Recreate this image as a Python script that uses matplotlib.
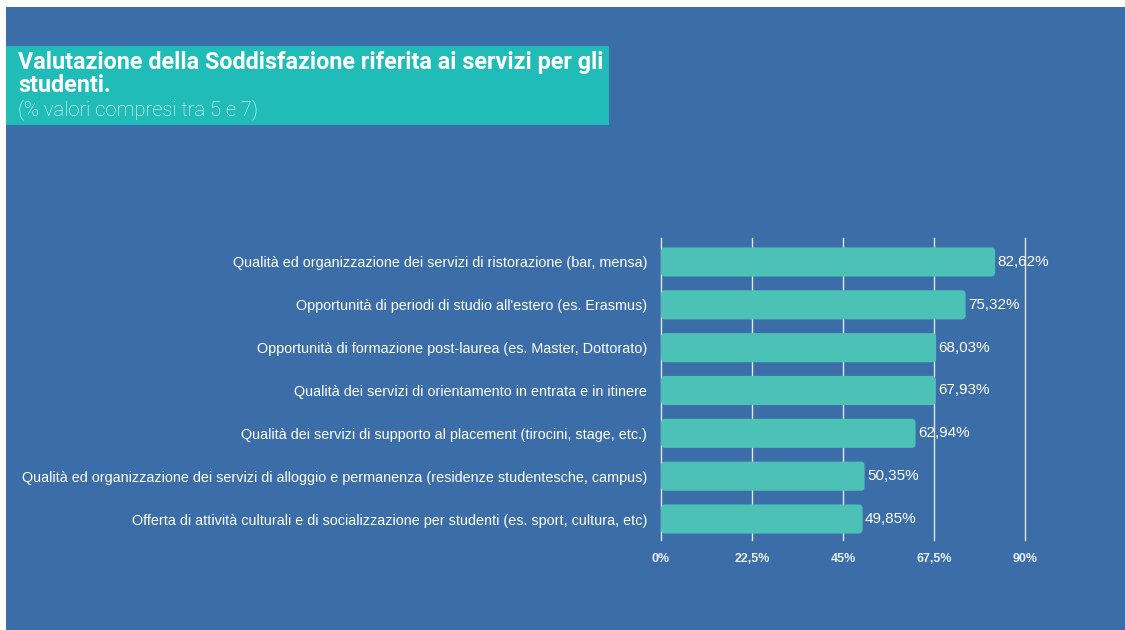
import matplotlib
matplotlib.use("Agg")
import matplotlib.pyplot as plt
from matplotlib.patches import Rectangle, FancyBboxPatch

categories = [
    "Qualità ed organizzazione dei servizi di ristorazione (bar, mensa)",
    "Opportunità di periodi di studio all'estero (es. Erasmus)",
    "Opportunità di formazione post-laurea (es. Master, Dottorato)",
    "Qualità dei servizi di orientamento in entrata e in itinere",
    "Qualità dei servizi di supporto al placement (tirocini, stage, etc.)",
    "Qualità ed organizzazione dei servizi di alloggio e permanenza (residenze studentesche, campus)",
    "Offerta di attività culturali e di socializzazione per studenti (es. sport, cultura, etc)",
]
values = [82.62, 75.32, 68.03, 67.93, 62.94, 50.35, 49.85]
ticks = [0, 22.5, 45, 67.5, 90]
tick_labels = ["0%", "22,5%", "45%", "67,5%", "90%"]

W, H = 1125, 630
BG = "#3b6ea8"
BAR = "#4cc1b6"
TEAL = "#1fbcb8"

fig = plt.figure(figsize=(W / 100, H / 100), dpi=100)
fig.patch.set_facecolor("white")
# blue panel
fig.patches.append(Rectangle((6 / W, 0), 1 - 6 / W, 1 - 7 / H, transform=fig.transFigure,
                             facecolor=BG, edgecolor="none", zorder=-2))
# title box
fig.patches.append(Rectangle((6 / W, 1 - 125 / H), (609 - 6) / W, (125 - 46) / H,
                             transform=fig.transFigure, facecolor=TEAL, edgecolor="none", zorder=-1))
fig.text(18 / W, 1 - 63 / H, "Valutazione della Soddisfazione riferita ai servizi per gli",
         fontsize=16.8, fontweight="bold", color="white", family="Roboto", va="center", ha="left")
fig.text(18 / W, 1 - 86 / H, "studenti.", fontsize=16.8, fontweight="bold", color="white",
         family="Roboto", va="center", ha="left")
fig.text(18 / W, 1 - 110 / H, "(% valori compresi tra 5 e 7)", fontsize=14.5, color="white",
         family="Roboto", fontweight="light", va="center", ha="left")

ax_left, ax_right = 661, 1025
ax_top, ax_bot = 238, 540
ax = fig.add_axes([ax_left / W, 1 - ax_bot / H, (ax_right - ax_left) / W, (ax_bot - ax_top) / H])
ax.set_facecolor("none")
ax.set_zorder(10)

y = list(range(len(categories)))
xu = (ax_right - ax_left) / 90.0
yu = (ax_bot - ax_top) / 7.05
for yi, v in zip(y, values):
    p = FancyBboxPatch((0, yi - 0.34), v, 0.68,
                       boxstyle="round,pad=0,rounding_size=1.0",
                       mutation_aspect=xu / yu,
                       facecolor=BAR, edgecolor="none", zorder=3)
    ax.add_patch(p)
    ax.text(v + 0.6, yi, f"{v:.2f}%".replace(".", ","), va="center", ha="left",
            fontsize=11, color="white", family="Liberation Sans", zorder=4)

ax.set_xlim(0, 90)
ax.set_ylim(6.49, -0.56)
ax.set_xticks(ticks)
ax.set_xticklabels(tick_labels)
ax.set_yticks(y)
ax.set_yticklabels(categories)
for spine in ax.spines.values():
    spine.set_visible(False)
for t in ticks:
    ax.axvline(t, color="#dfe7f2", lw=1.0, zorder=1, clip_on=False)
ax.tick_params(axis="both", length=0)
ax.tick_params(axis="y", pad=10)
ax.tick_params(axis="x", pad=9)
for lbl in ax.get_yticklabels():
    lbl.set_family("Liberation Sans")
    lbl.set_fontsize(10.4)
    lbl.set_color("white")
for lbl in ax.get_xticklabels():
    lbl.set_family("Liberation Sans")
    lbl.set_fontsize(9)
    lbl.set_fontweight("bold")
    lbl.set_color("#e6edf6")

fig.savefig("out.png", dpi=100, facecolor=fig.get_facecolor())
